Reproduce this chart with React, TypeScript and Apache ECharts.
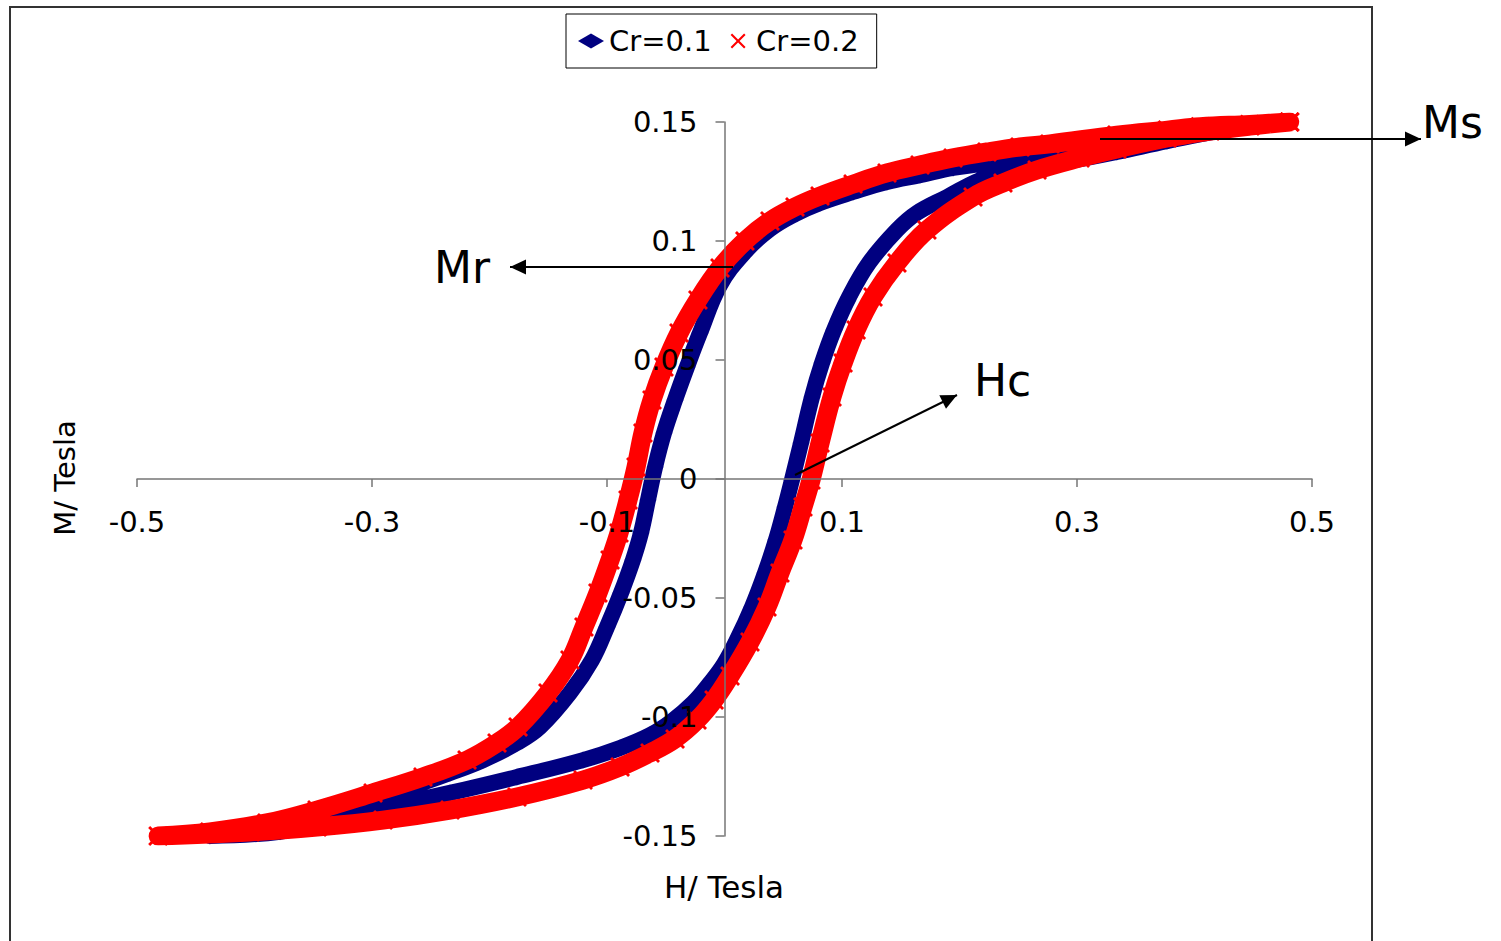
import React, { useEffect, useRef } from "react";
import * as echarts from "echarts";

// Hysteresis loops, [H (T), M (T)] pairs.
// Cr = 0.1: descending branch, from positive to negative saturation
const cr01Descending: [number, number][] = [
  [0.4387, 0.1479], [0.396, 0.1462], [0.334, 0.1424], [0.277, 0.1382], [0.2234, 0.1328],
  [0.1945, 0.1307], [0.1664, 0.1277], [0.1383, 0.1248], [0.1094, 0.1206], [0.0813, 0.116],
  [0.06, 0.1113], [0.0387, 0.105], [0.0174, 0.0954], [-0.0038, 0.0815], [-0.0209, 0.0613],
  [-0.0319, 0.0471], [-0.0421, 0.0332], [-0.0515, 0.0193], [-0.0591, 0.005], [-0.0651, -0.0088],
  [-0.0711, -0.0227], [-0.0779, -0.034], [-0.0881, -0.0479], [-0.1, -0.0622], [-0.1128, -0.0761],
  [-0.1315, -0.0899], [-0.157, -0.1042], [-0.1766, -0.1109], [-0.2055, -0.1181], [-0.2336, -0.1235],
  [-0.2677, -0.1294], [-0.3043, -0.1349], [-0.3443, -0.1403], [-0.3868, -0.1458], [-0.4379, -0.15],
];
// Cr = 0.1: ascending branch, back to positive saturation
const cr01Ascending: [number, number][] = [
  [-0.3783, -0.1482], [-0.3443, -0.144], [-0.2906, -0.138], [-0.2336, -0.1319], [-0.1766, -0.1252],
  [-0.1204, -0.1181], [-0.0889, -0.113], [-0.0634, -0.1076], [-0.0447, -0.1017], [-0.0268, -0.0941],
  [-0.0123, -0.0857], [-0.0004, -0.0777], [0.0106, -0.0676], [0.0234, -0.0538], [0.0345, -0.0395],
  [0.0438, -0.0256], [0.0515, -0.0118], [0.0574, -0.0004], [0.0651, 0.0151], [0.0745, 0.0345],
  [0.083, 0.0487], [0.0932, 0.0626], [0.106, 0.0765], [0.123, 0.0908], [0.1468, 0.1046],
  [0.1638, 0.1118], [0.1894, 0.1185], [0.2174, 0.1256], [0.243, 0.1294], [0.2855, 0.1328],
  [0.334, 0.1374], [0.3766, 0.142], [0.4387, 0.1479],
];
// Cr = 0.2: descending branch
const cr02Descending: [number, number][] = [
  [0.481, 0.15], [0.447, 0.149], [0.405, 0.148], [0.377, 0.1466], [0.334, 0.1445],
  [0.277, 0.1408], [0.2515, 0.1395], [0.2234, 0.1374], [0.1945, 0.1349], [0.1664, 0.1319],
  [0.1383, 0.1286], [0.1094, 0.1239], [0.0813, 0.1189], [0.06, 0.1143], [0.0387, 0.1084],
  [0.0174, 0.1], [-0.0038, 0.0887], [-0.0226, 0.0752], [-0.0387, 0.0613], [-0.0515, 0.0471],
  [-0.0617, 0.0332], [-0.0694, 0.0193], [-0.0753, 0.005], [-0.0821, -0.0088], [-0.0898, -0.0227],
  [-0.0974, -0.034], [-0.1077, -0.0479], [-0.1196, -0.0622], [-0.1315, -0.0761], [-0.1502, -0.0899],
  [-0.1757, -0.1042], [-0.1936, -0.1109], [-0.2191, -0.1181], [-0.2566, -0.1252], [-0.2991, -0.1319],
  [-0.3468, -0.1391], [-0.3894, -0.1445], [-0.438, -0.1483], [-0.482, -0.15],
];
// Cr = 0.2: ascending branch
const cr02Ascending: [number, number][] = [
  [-0.4038, -0.1483], [-0.3468, -0.1462], [-0.2906, -0.1433], [-0.2336, -0.1391], [-0.1766, -0.1336],
  [-0.1204, -0.1265], [-0.0889, -0.121], [-0.0634, -0.1151], [-0.0421, -0.1092], [-0.0234, -0.1013],
  [-0.0089, -0.0929], [0.0047, -0.0828], [0.0217, -0.0685], [0.0362, -0.0538], [0.0472, -0.0395],
  [0.0583, -0.0256], [0.0668, -0.0118], [0.0736, -0.0004], [0.0813, 0.0151], [0.0915, 0.0345],
  [0.1009, 0.0487], [0.112, 0.0626], [0.1264, 0.0765], [0.1468, 0.0908], [0.1723, 0.1046],
  [0.2115, 0.1185], [0.237, 0.1244], [0.266, 0.1298], [0.3026, 0.1349], [0.334, 0.1387],
  [0.3766, 0.1433], [0.4132, 0.1462], [0.4472, 0.1483], [0.481, 0.15],
];

const seriesNames = ["Cr=0.1", "Cr=0.2"];
const hTicks = [-0.5, -0.3, -0.1, 0.1, 0.3, 0.5];
const mTicks = [-0.15, -0.1, -0.05, 0, 0.05, 0.1, 0.15];

const FONT = "DejaVu Sans";
const CROSS = "path://M0,1L1,0L5,4L9,0L10,1L6,5L10,9L9,10L5,6L1,10L0,9L4,5Z";
const AXIS_GREY = "#767676";

// plot area, in pixels
const GRID = { left: 137, right: 189, top: 122, bottom: 105 };
const CHART_W = 1501;
const CHART_H = 941;

function arrowHead(tip: [number, number], from: [number, number], len: number, half: number) {
  const dx = tip[0] - from[0];
  const dy = tip[1] - from[1];
  const d = Math.hypot(dx, dy);
  const ux = dx / d;
  const uy = dy / d;
  const bx = tip[0] - ux * len;
  const by = tip[1] - uy * len;
  return {
    type: "polygon",
    z: 20,
    silent: true,
    shape: { points: [tip, [bx - uy * half, by + ux * half], [bx + uy * half, by - ux * half]] },
    style: { fill: "#000" },
  };
}

function arrow(from: [number, number], tip: [number, number]) {
  return [
    {
      type: "line",
      z: 20,
      silent: true,
      shape: { x1: from[0], y1: from[1], x2: tip[0], y2: tip[1] },
      style: { stroke: "#000", lineWidth: 2 },
    },
    arrowHead(tip, from, 16, 7.5),
  ];
}

function label(text: string, x: number, y: number, size: number, align: string, rotation = 0) {
  return {
    type: "text",
    z: 20,
    silent: true,
    x,
    y,
    rotation,
    style: {
      text,
      fill: "#000",
      font: `${size}px "${FONT}"`,
      align,
      textAlign: align,
      verticalAlign: "middle",
      textVerticalAlign: "middle",
    },
  };
}

export default function App() {
  const ref = useRef<HTMLDivElement>(null);

  useEffect(() => {
    if (!ref.current) return;
    const chart = echarts.init(ref.current, null, { renderer: "svg" });

    const hMin = -0.5;
    const hMax = 0.5;
    const mMin = -0.15;
    const mMax = 0.15;
    const plotW = CHART_W - GRID.left - GRID.right;
    const plotH = CHART_H - GRID.top - GRID.bottom;
    // shift each axis from the plot edge onto the other axis's zero
    const xAxisOffset = -((0 - mMin) / (mMax - mMin)) * plotH;
    const yAxisOffset = -((0 - hMin) / (hMax - hMin)) * plotW;

    const tickLabel = {
      fontSize: 29,
      fontFamily: FONT,
      color: "#000",
      formatter: (v: number) => String(v),
    };

    chart.setOption({
      animation: false,
      backgroundColor: "#fff",
      textStyle: { fontFamily: FONT },
      grid: { ...GRID, containLabel: false },
      legend: {
        left: 566,
        top: 14,
        padding: [12, 18, 12, 12],
        itemWidth: 26,
        itemHeight: 15,
        itemGap: 19,
        borderColor: "#000",
        borderWidth: 1,
        backgroundColor: "#fff",
        textStyle: { fontSize: 29, fontFamily: FONT, color: "#000", lineHeight: 30 },
        data: [
          { name: seriesNames[0], icon: "diamond" },
          { name: seriesNames[1], icon: CROSS },
        ],
      },
      xAxis: {
        type: "value",
        position: "bottom",
        min: hMin,
        max: hMax,
        offset: xAxisOffset,
        z: 5,
        axisLine: { onZero: false, lineStyle: { color: AXIS_GREY, width: 1.5 } },
        axisTick: { show: true, length: 8, customValues: hTicks, lineStyle: { color: AXIS_GREY, width: 1.5 } },
        axisLabel: { ...tickLabel, customValues: hTicks, margin: 28 },
        splitLine: { show: false },
      },
      yAxis: {
        type: "value",
        position: "left",
        min: mMin,
        max: mMax,
        offset: yAxisOffset,
        z: 5,
        axisLine: { show: true, onZero: false, lineStyle: { color: AXIS_GREY, width: 1.5 } },
        axisTick: { show: true, length: 9, customValues: mTicks, lineStyle: { color: AXIS_GREY, width: 1.5 } },
        axisLabel: { ...tickLabel, customValues: mTicks, margin: 27 },
        splitLine: { show: false },
      },
      series: [
        {
          name: seriesNames[0],
          type: "line",
          data: [...cr01Descending, ...cr01Ascending],
          smooth: 0.4,
          symbol: "diamond",
          symbolSize: 17,
          itemStyle: { color: "#000080" },
          lineStyle: { color: "#000080", width: 16, join: "round", cap: "round" },
          z: 2,
        },
        {
          name: seriesNames[1],
          type: "line",
          data: [...cr02Descending, ...cr02Ascending],
          smooth: 0.4,
          symbol: CROSS,
          symbolSize: 20,
          itemStyle: { color: "#ff0000" },
          lineStyle: { color: "#ff0000", width: 19, join: "round", cap: "round" },
          z: 3,
        },
      ],
      graphic: [
        {
          type: "rect",
          silent: true,
          z: 0,
          shape: { x: 10, y: 7, width: 1362, height: 960 },
          style: { fill: "none", stroke: "#333", lineWidth: 2 },
        },
        ...arrow([1100, 139], [1421, 139]),
        ...arrow([733, 267], [510, 267]),
        ...arrow([795, 475], [957, 395]),
        label("Ms", 1422, 122, 44, "left"),
        label("Mr", 462, 267, 44, "center"),
        label("Hc", 974, 380, 44, "left"),
        label("H/ Tesla", 724, 887, 31, "center"),
        label("M/ Tesla", 65, 478, 29, "center", Math.PI / 2),
      ],
    });

    return () => chart.dispose();
  }, []);

  return (
    <div
      ref={ref}
      style={{ position: "fixed", left: 0, top: 0, width: CHART_W, height: CHART_H, background: "#fff" }}
    />
  );
}
